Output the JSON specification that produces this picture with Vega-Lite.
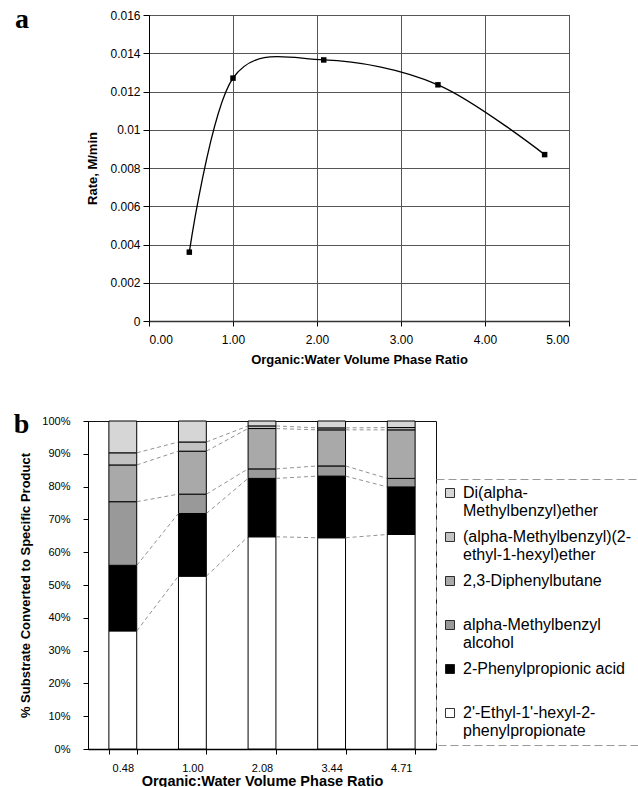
{
  "$schema": "https://vega.github.io/schema/vega-lite/v6.json",
  "padding": {"left": 13, "top": 6, "right": 0, "bottom": 0},
  "background": "white",
  "spacing": 43,
  "config": {
    "font": "Liberation Sans",
    "axis": {"labelFont": "Liberation Sans", "titleFont": "Liberation Sans", "labelColor": "black", "titleColor": "black", "domainColor": "black", "tickColor": "black", "titleFontWeight": "bold", "labelOverlap": false},
    "legend": {"strokeColor": "#999", "strokeDash": [8, 4], "padding": 6}
  },
  "vconcat": [
    {
      "spacing": -3,
      "hconcat": [
        {
          "width": 1,
          "height": 306,
          "view": {"stroke": null},
          "data": {"values": []},
          "mark": "point",
          "title": {"text": "a", "anchor": "start", "frame": "group", "orient": "top", "offset": -29, "dx": -73, "dy": 12, "baseline": "alphabetic", "font": "Liberation Serif", "fontSize": 28, "fontWeight": "bold", "color": "black"}
        },
        {
          "width": 420,
          "height": 306,
          "view": {"stroke": "#111", "strokeWidth": 1},
          "data": {"values": [
            {"ratio": 0.48, "rate": 0.0036},
            {"ratio": 1.0, "rate": 0.0127},
            {"ratio": 2.08, "rate": 0.01365},
            {"ratio": 3.44, "rate": 0.01235},
            {"ratio": 4.71, "rate": 0.0087}
          ]},
          "encoding": {
            "x": {"field": "ratio", "type": "quantitative", "scale": {"domain": [0, 5], "nice": false, "zero": false},
              "axis": {"title": "Organic:Water Volume Phase Ratio", "values": [0, 1, 2, 3, 4, 5], "format": ".2f", "grid": true, "gridColor": "#555", "gridWidth": 1, "domainColor": "#333", "domainWidth": 1.5, "tickSize": 5, "labelPadding": 8, "titlePadding": 8, "labelFontSize": 12, "titleFontSize": 13}},
            "y": {"field": "rate", "type": "quantitative", "scale": {"domain": [0, 0.016], "nice": false},
              "axis": {"title": "Rate, M/min", "values": [0, 0.002, 0.004, 0.006, 0.008, 0.01, 0.012, 0.014, 0.016], "format": ".3~f", "grid": true, "gridColor": "#555", "gridWidth": 1, "tickSize": 6, "labelPadding": 3, "titlePadding": 10, "labelFontSize": 12, "titleFontSize": 13}}
          },
          "layer": [
            {"mark": {"type": "line", "interpolate": "cardinal", "color": "black", "strokeWidth": 1.3}},
            {"mark": {"type": "square", "color": "black", "filled": true, "opacity": 1, "size": 30}}
          ]
        }
      ]
    },
    {
      "width": 348,
      "height": 328,
      "view": {"stroke": "#111"},
      "title": {"text": "b", "anchor": "start", "frame": "bounds", "orient": "top", "offset": -30, "dx": -6, "dy": 16, "baseline": "alphabetic", "font": "Liberation Serif", "fontSize": 28, "fontWeight": "bold", "color": "black"},
      "data": {"values": [
        {"ratio": "0.48", "product": "2'-Ethyl-1'-hexyl-2-phenylpropionate", "value": 36.0, "order": 1},
        {"ratio": "0.48", "product": "2-Phenylpropionic acid", "value": 20.0, "order": 2},
        {"ratio": "0.48", "product": "alpha-Methylbenzyl alcohol", "value": 19.4, "order": 3},
        {"ratio": "0.48", "product": "2,3-Diphenylbutane", "value": 11.2, "order": 4},
        {"ratio": "0.48", "product": "(alpha-Methylbenzyl)(2-ethyl-1-hexyl)ether", "value": 3.7, "order": 5},
        {"ratio": "0.48", "product": "Di(alpha-Methylbenzyl)ether", "value": 9.7, "order": 6},
        {"ratio": "1.00", "product": "2'-Ethyl-1'-hexyl-2-phenylpropionate", "value": 52.7, "order": 1},
        {"ratio": "1.00", "product": "2-Phenylpropionic acid", "value": 19.1, "order": 2},
        {"ratio": "1.00", "product": "alpha-Methylbenzyl alcohol", "value": 5.9, "order": 3},
        {"ratio": "1.00", "product": "2,3-Diphenylbutane", "value": 13.1, "order": 4},
        {"ratio": "1.00", "product": "(alpha-Methylbenzyl)(2-ethyl-1-hexyl)ether", "value": 2.8, "order": 5},
        {"ratio": "1.00", "product": "Di(alpha-Methylbenzyl)ether", "value": 6.4, "order": 6},
        {"ratio": "2.08", "product": "2'-Ethyl-1'-hexyl-2-phenylpropionate", "value": 64.7, "order": 1},
        {"ratio": "2.08", "product": "2-Phenylpropionic acid", "value": 17.8, "order": 2},
        {"ratio": "2.08", "product": "alpha-Methylbenzyl alcohol", "value": 2.9, "order": 3},
        {"ratio": "2.08", "product": "2,3-Diphenylbutane", "value": 12.3, "order": 4},
        {"ratio": "2.08", "product": "(alpha-Methylbenzyl)(2-ethyl-1-hexyl)ether", "value": 0.8, "order": 5},
        {"ratio": "2.08", "product": "Di(alpha-Methylbenzyl)ether", "value": 1.5, "order": 6},
        {"ratio": "3.44", "product": "2'-Ethyl-1'-hexyl-2-phenylpropionate", "value": 64.4, "order": 1},
        {"ratio": "3.44", "product": "2-Phenylpropionic acid", "value": 18.8, "order": 2},
        {"ratio": "3.44", "product": "alpha-Methylbenzyl alcohol", "value": 3.1, "order": 3},
        {"ratio": "3.44", "product": "2,3-Diphenylbutane", "value": 11.0, "order": 4},
        {"ratio": "3.44", "product": "(alpha-Methylbenzyl)(2-ethyl-1-hexyl)ether", "value": 0.6, "order": 5},
        {"ratio": "3.44", "product": "Di(alpha-Methylbenzyl)ether", "value": 2.1, "order": 6},
        {"ratio": "4.71", "product": "2'-Ethyl-1'-hexyl-2-phenylpropionate", "value": 65.4, "order": 1},
        {"ratio": "4.71", "product": "2-Phenylpropionic acid", "value": 14.5, "order": 2},
        {"ratio": "4.71", "product": "alpha-Methylbenzyl alcohol", "value": 2.6, "order": 3},
        {"ratio": "4.71", "product": "2,3-Diphenylbutane", "value": 14.8, "order": 4},
        {"ratio": "4.71", "product": "(alpha-Methylbenzyl)(2-ethyl-1-hexyl)ether", "value": 0.7, "order": 5},
        {"ratio": "4.71", "product": "Di(alpha-Methylbenzyl)ether", "value": 2.0, "order": 6}
      ]},
      "transform": [
        {"stack": "value", "groupby": ["ratio"], "sort": [{"field": "order", "order": "ascending"}], "as": ["y0", "y1"]}
      ],
      "layer": [
        {
          "mark": {"type": "bar", "stroke": "black", "strokeWidth": 1},
          "encoding": {
            "x": {"field": "ratio", "type": "nominal", "scale": {"paddingInner": 0.6, "paddingOuter": 0.3},
              "axis": {"title": "Organic:Water Volume Phase Ratio", "labelAngle": 0, "tickBand": "extent", "tickSize": 5, "labelPadding": 8, "titlePadding": 1, "labelFontSize": 11, "titleFontSize": 14.5, "domainColor": "black", "domainWidth": 1.5}},
            "y": {"field": "y0", "type": "quantitative", "scale": {"domain": [0, 100], "nice": false},
              "axis": {"title": "% Substrate Converted to Specific Product", "values": [0, 10, 20, 30, 40, 50, 60, 70, 80, 90, 100], "labelExpr": "datum.value + '%'", "labelOverlap": false, "labelBound": false, "grid": false, "tickSize": 5, "labelPadding": 13, "titlePadding": 9, "labelFontSize": 11, "titleFontSize": 13}},
            "y2": {"field": "y1"},
            "color": {"field": "product", "type": "nominal",
              "scale": {"domain": ["Di(alpha-Methylbenzyl)ether", "(alpha-Methylbenzyl)(2-ethyl-1-hexyl)ether", "2,3-Diphenylbutane", "alpha-Methylbenzyl alcohol", "2-Phenylpropionic acid", "2'-Ethyl-1'-hexyl-2-phenylpropionate"],
                "range": ["#d6d6d6", "#c2c2c2", "#a9a9a9", "#999999", "#000000", "#ffffff"]},
              "legend": {"title": null, "orient": "none", "legendX": 348, "legendY": 464, "labelFont": "Liberation Sans", "labelFontSize": 16, "labelColor": "black", "labelLimit": 300, "labelOffset": 5, "rowPadding": 10,
                "symbolType": "square", "symbolSize": 81, "symbolStrokeColor": "black", "symbolStrokeWidth": 0.8,
                "labelExpr": "datum.label == 'Di(alpha-Methylbenzyl)ether' ? ['Di(alpha-', 'Methylbenzyl)ether'] : datum.label == '(alpha-Methylbenzyl)(2-ethyl-1-hexyl)ether' ? ['(alpha-Methylbenzyl)(2-', 'ethyl-1-hexyl)ether'] : datum.label == '2,3-Diphenylbutane' ? ['2,3-Diphenylbutane', ''] : datum.label == 'alpha-Methylbenzyl alcohol' ? ['alpha-Methylbenzyl', 'alcohol'] : datum.label == '2-Phenylpropionic acid' ? ['2-Phenylpropionic acid', ''] : [\"2'-Ethyl-1'-hexyl-2-\", 'phenylpropionate']"}}
          }
        },
        {
          "transform": [
            {"window": [{"op": "lead", "field": "y1", "as": "ny"}, {"op": "lead", "field": "ratio", "as": "nr"}], "groupby": ["product"], "sort": [{"field": "ratio", "order": "ascending"}]},
            {"filter": "datum.nr != null && datum.product != 'Di(alpha-Methylbenzyl)ether'"}
          ],
          "mark": {"type": "rule", "color": "#777", "strokeWidth": 0.8, "strokeDash": [4, 3], "xOffset": 14, "x2Offset": -14},
          "encoding": {
            "x": {"field": "ratio", "type": "nominal"},
            "x2": {"field": "nr"},
            "y": {"field": "y1", "type": "quantitative",
              "axis": {"title": "% Substrate Converted to Specific Product", "values": [0, 10, 20, 30, 40, 50, 60, 70, 80, 90, 100], "labelExpr": "datum.value + '%'", "labelOverlap": false, "labelBound": false, "grid": false, "tickSize": 5, "labelPadding": 13, "titlePadding": 9, "labelFontSize": 11, "titleFontSize": 13}},
            "y2": {"field": "ny"}
          }
        }
      ]
    }
  ]
}
